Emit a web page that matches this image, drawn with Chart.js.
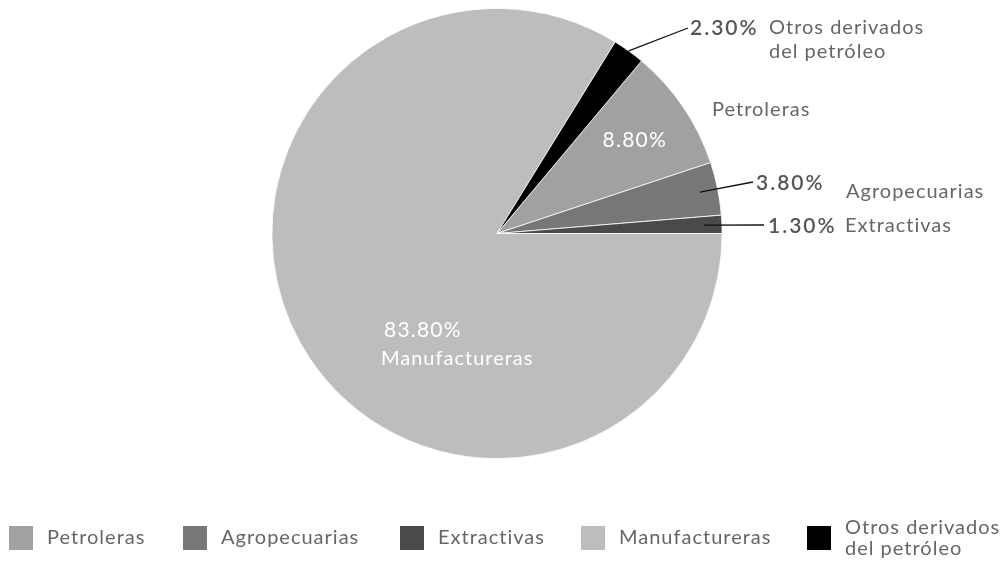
<!DOCTYPE html>
<html>
<head>
<meta charset="utf-8">
<script src="https://cdn.jsdelivr.net/npm/chart.js@4.4.1/dist/chart.umd.min.js"></script>
<style>
  html, body { margin: 0; padding: 0; background: #fff; }
  #wrap { width: 1003px; height: 573px; position: relative; }
</style>
</head>
<body>
<div id="wrap"><canvas id="c"></canvas></div>
<script>
var categories = ['Petroleras', 'Agropecuarias', 'Extractivas', 'Manufactureras', 'Otros derivados del petróleo'];
var shares = [8.8, 3.8, 1.3, 83.8, 2.3];
var sliceColors = ['#a1a1a3', '#77777a', '#4a4a4c', '#bdbdbf', '#000000'];
var legendLines = [['Petroleras'], ['Agropecuarias'], ['Extractivas'], ['Manufactureras'], ['Otros derivados', 'del petróleo']];

var FONT = 'Lato, "Open Sans", sans-serif';

function pct(v){ return v.toFixed(2) + '%'; }

// point on a slice at a fraction of the radius along its middle angle
function arcPoint(arc, frac){
  var mid = (arc.startAngle + arc.endAngle) / 2;
  var r = arc.outerRadius * frac;
  return { x: arc.x + Math.cos(mid) * r, y: arc.y + Math.sin(mid) * r };
}

function nameFont(ctx){
  ctx.font = '20px ' + FONT;
  ctx.letterSpacing = '1px';
}
function valueFont(ctx, bold){
  ctx.font = (bold ? '600 ' : '') + '21px ' + FONT;
  ctx.letterSpacing = bold ? '2px' : '1.2px';
}

var sliceLabels = {
  id: 'sliceLabels',
  afterDatasetsDraw: function(chart){
    var ctx = chart.ctx;
    var arcs = chart.getDatasetMeta(0).data;
    ctx.save();
    ctx.textBaseline = 'middle';

    // Petroleras: value inside, name outside
    var p = arcPoint(arcs[0], 0.74);
    ctx.fillStyle = '#ffffff';
    valueFont(ctx, false);
    ctx.textAlign = 'center';
    ctx.fillText(pct(shares[0]), p.x, p.y);
    ctx.fillStyle = '#666666';
    nameFont(ctx);
    ctx.textAlign = 'left';
    ctx.fillText(categories[0], 712, 110);

    // Manufactureras: value and name inside
    ctx.fillStyle = '#ffffff';
    valueFont(ctx, false);
    ctx.fillText(pct(shares[3]), 384, 330);
    nameFont(ctx);
    ctx.fillText(categories[3], 381, 359);

    // slices with leader lines
    var callouts = [
      { i: 4, frac: 1.0, end: [688, 28], text: [690, 28], name: [[769, 28], [769, 52]], names: legendLines[4] },
      { i: 1, frac: 0.92, end: [753, 182], text: [756, 183], name: [[846, 192]], names: [categories[1]] },
      { i: 2, frac: 0.92, end: [764, 225], text: [768, 226], name: [[845, 226]], names: [categories[2]] }
    ];
    callouts.forEach(function(c){
      var s = arcPoint(arcs[c.i], c.frac);
      ctx.strokeStyle = '#111';
      ctx.lineWidth = 1.3;
      ctx.beginPath();
      ctx.moveTo(s.x, s.y);
      ctx.lineTo(c.end[0], c.end[1]);
      ctx.stroke();
      ctx.fillStyle = '#555555';
      valueFont(ctx, true);
      ctx.textAlign = 'left';
      ctx.fillText(pct(shares[c.i]), c.text[0], c.text[1]);
      ctx.fillStyle = '#666666';
      nameFont(ctx);
      c.names.forEach(function(t, k){
        ctx.fillText(t, c.name[k][0], c.name[k][1]);
      });
    });
    ctx.restore();
  }
};

// legend row under the pie
var legendRow = {
  id: 'legendRow',
  afterDraw: function(chart){
    var ctx = chart.ctx;
    var xs = [9, 183, 400, 581, 807];
    ctx.save();
    ctx.textBaseline = 'middle';
    ctx.textAlign = 'left';
    nameFont(ctx);
    for (var i = 0; i < categories.length; i++) {
      ctx.fillStyle = sliceColors[i];
      ctx.fillRect(xs[i], 526, 24, 24);
      ctx.fillStyle = '#666666';
      var lines = legendLines[i];
      if (lines.length == 1) {
        ctx.fillText(lines[0], xs[i] + 38, 538);
      } else {
        ctx.fillText(lines[0], xs[i] + 38, 528);
        ctx.fillText(lines[1], xs[i] + 38, 549);
      }
    }
    ctx.restore();
  }
};

// first slice starts where the first three end at 3 o'clock
var startDeg = 90 - (shares[0] + shares[1] + shares[2]) / 100 * 360;

new Chart(document.getElementById('c'), {
  type: 'pie',
  data: {
    labels: categories,
    datasets: [{
      data: shares,
      backgroundColor: sliceColors,
      borderColor: '#ffffff',
      borderWidth: 0.8
    }]
  },
  options: {
    responsive: true,
    maintainAspectRatio: false,
    animation: false,
    rotation: startDeg,
    layout: { padding: { top: 8, bottom: 114, left: 0, right: 9 } },
    plugins: {
      legend: { display: false },
      tooltip: { enabled: false }
    }
  },
  plugins: [sliceLabels, legendRow]
});
</script>
</body>
</html>
